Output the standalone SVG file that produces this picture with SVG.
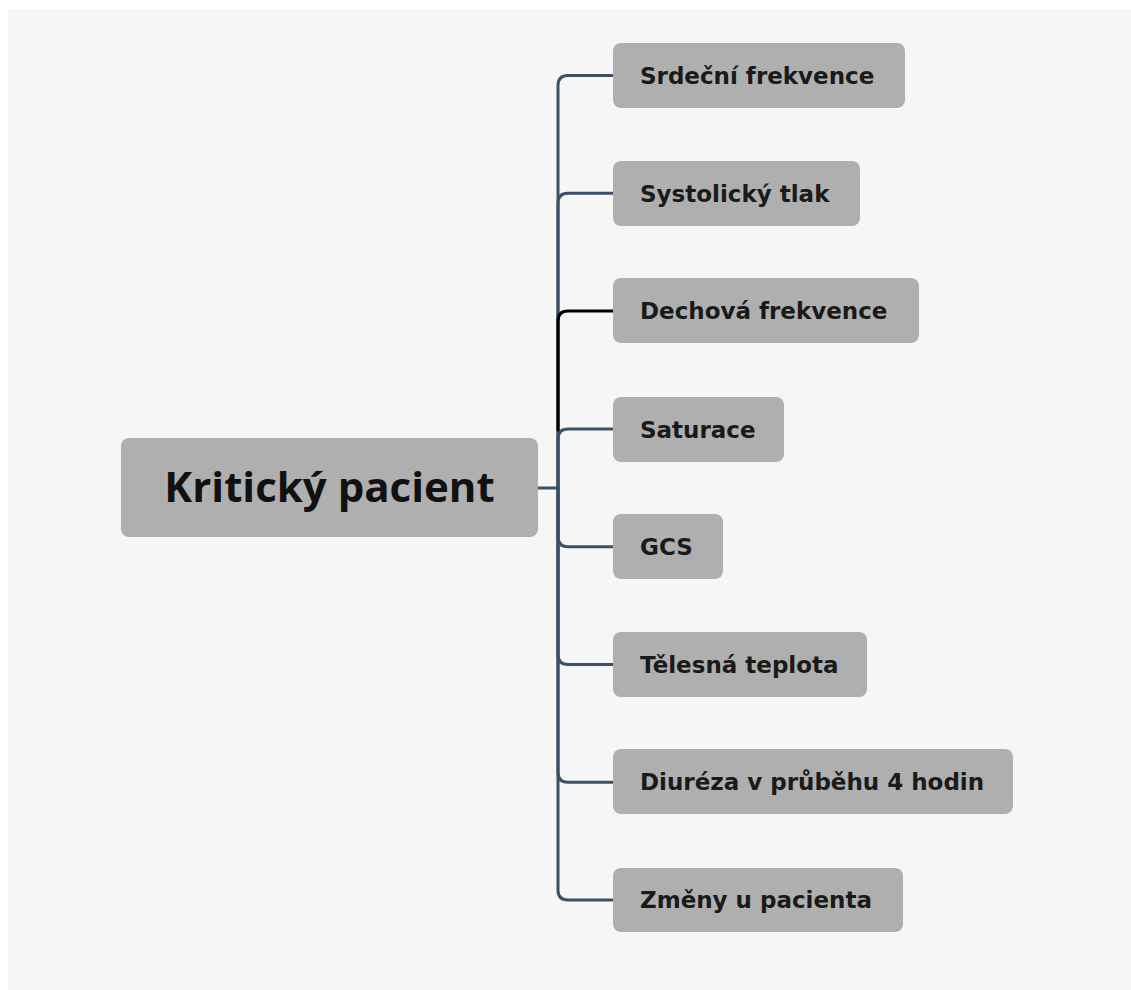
<svg xmlns="http://www.w3.org/2000/svg" width="1131" height="990" viewBox="0 0 1131 990">
  <style>
    .panel { fill: #f6f6f6; }
    .node rect { fill: #afafaf; }
    .root text { font-family: "Open Sans", "Liberation Sans", sans-serif; font-weight: 700; font-size: 42px; fill: #111111; text-anchor: middle; }
    .child text { font-family: "DejaVu Sans", "Liberation Sans", sans-serif; font-weight: 700; font-size: 23px; fill: #1a1a1a; }
    .link { fill: none; stroke: #3d5068; stroke-width: 3; stroke-linecap: round; stroke-linejoin: round; }
    .link.active { stroke: #000000; }
  </style>
  <rect x="0" y="0" width="1131" height="990" fill="#ffffff"/>
  <rect class="panel" x="8" y="9" width="1123" height="981"/>

  <g id="connectors">
    <path class="link" d="M538,488 H558"/>
    <path class="link" d="M558,488 V85.5 Q558,75.5 568,75.5 H613"/>
    <path class="link" d="M558,488 V203.3 Q558,193.3 568,193.3 H613"/>
    <path class="link" d="M558,488 V439 Q558,429 568,429 H613"/>
    <path class="link" d="M558,488 V536.7 Q558,546.7 568,546.7 H613"/>
    <path class="link" d="M558,488 V654.5 Q558,664.5 568,664.5 H613"/>
    <path class="link" d="M558,488 V772.3 Q558,782.3 568,782.3 H613"/>
    <path class="link" d="M558,488 V890 Q558,900 568,900 H613"/>
    <path class="link active" d="M558,430 V321 Q558,311 568,311 H613"/>
  </g>

  <g id="node-root" class="node root">
    <rect x="121" y="438" width="417" height="99" rx="8"/>
    <text x="329.5" y="502">Kritický pacient</text>
  </g>
  <g id="node-srdecni-frekvence" class="node child">
    <rect x="613" y="43" width="292" height="65" rx="8"/>
    <text x="640" y="84">Srdeční frekvence</text>
  </g>
  <g id="node-systolicky-tlak" class="node child">
    <rect x="613" y="161" width="247" height="65" rx="8"/>
    <text x="640" y="202">Systolický tlak</text>
  </g>
  <g id="node-dechova-frekvence" class="node child">
    <rect x="613" y="278" width="306" height="65" rx="8"/>
    <text x="640" y="319">Dechová frekvence</text>
  </g>
  <g id="node-saturace" class="node child">
    <rect x="613" y="397" width="171" height="65" rx="8"/>
    <text x="640" y="438">Saturace</text>
  </g>
  <g id="node-gcs" class="node child">
    <rect x="613" y="514" width="110" height="65" rx="8"/>
    <text x="640" y="555">GCS</text>
  </g>
  <g id="node-telesna-teplota" class="node child">
    <rect x="613" y="632" width="254" height="65" rx="8"/>
    <text x="640" y="673">Tělesná teplota</text>
  </g>
  <g id="node-diureza" class="node child">
    <rect x="613" y="749" width="400" height="65" rx="8"/>
    <text x="640" y="790">Diuréza v průběhu 4 hodin</text>
  </g>
  <g id="node-zmeny" class="node child">
    <rect x="613" y="868" width="290" height="64" rx="8"/>
    <text x="640" y="908">Změny u pacienta</text>
  </g>
</svg>
